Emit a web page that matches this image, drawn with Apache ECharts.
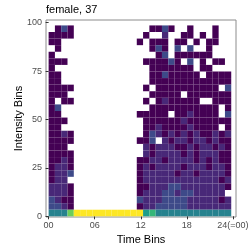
<!DOCTYPE html>
<html>
<head>
<meta charset="utf-8">
<script src="https://cdn.jsdelivr.net/npm/echarts@6/dist/echarts.min.js"></script>
<style>html,body{margin:0;padding:0;background:#fff;}#c{width:249px;height:249px;}</style>
</head>
<body>
<div id="c"></div>
<script>
// ---- data ----
const chartTitle = 'female, 37';
const timeTicks = [0, 6, 12, 18, 24];
const timeLabels = ['00', '06', '12', '18', '24(=00)'];
const intensityTicks = [0, 25, 50, 75, 100];
// level per cell (0..9 on viridis), '.' = no data; first string = top intensity bin
const intensityRows = [
  '.020' + '..........' + '..0020..0...0..',
  '0000' + '..........' + '.0..1..00.0.0..',
  '00..' + '..........' + '0.000.00.0.00..',
  '.0..' + '..........' + '..020.2.2..0...',
  '0...' + '..........' + '...02.000000...',
  '000.' + '..........' + '.000020.2.0.00.',
  '0...' + '..........' + '..0000000.00...',
  '00..' + '..........' + '..00200000.0000',
  '00..' + '..........' + '..0000000000000',
  '0000' + '..........' + '.0.0000000000.2',
  '000.' + '..........' + '..00000.0000000',
  '0.00' + '..........' + '.0.0100000..000',
  '02..' + '..........' + '..00000000000.0',
  '00..' + '..........' + '00000.0010000.2',
  '000.' + '..........' + '.00000010000000',
  '00..' + '..........' + '.001000010000.0',
  '0010' + '..........' + '.02101010100101',
  '0000' + '..........' + '002.10110110100',
  '000.' + '..........' + '.10111001011010',
  '0000' + '..........' + '.10111101011100',
  '0010' + '..........' + '001101111010100',
  '0110' + '..........' + '010111101110110',
  '0112' + '..........' + '011111011011110',
  '011.' + '..........' + '011111111111101',
  '1110' + '..........' + '001112211111110',
  '1110' + '..........' + '01112212211111.',
  '2100' + '..........' + '211122221111101',
  '2210' + '..........' + '011222221111111',
  '4447' + '9999999999' + '956444444444444'
];
// ---- bin geometry (data units) ----
const TIME_BIN = 0.82;
const INT_BIN = 3.4;

const cells = [];
const nRows = intensityRows.length;
intensityRows.forEach((row, r) => {
  const j = nRows - 1 - r;
  for (let c = 0; c < row.length; c++) {
    const ch = row[c];
    if (ch === '.') continue;
    cells.push([c * TIME_BIN, j * INT_BIN, Number(ch)]);
  }
});

const viridis = ['#440154','#482878','#3E4A89','#31688E','#26828E','#1F9E89','#35B779','#6DCD59','#B4DE2C','#FDE725'];
const FONT = 'Liberation Sans, Arial, sans-serif';

const chart = echarts.init(document.getElementById('c'), null, {renderer: 'canvas'});
chart.setOption({
  animation: false,
  backgroundColor: '#fff',
  title: {
    text: chartTitle, left: 46, top: 4, padding: 0,
    textStyle: {fontSize: 11, fontWeight: 'normal', color: '#000', fontFamily: FONT}
  },
  grid: {
    left: 46, top: 20, right: 13, bottom: 32,
    containLabel: false, outerBoundsMode: 'none',
    show: true, borderColor: '#8c8c8c', borderWidth: 1, backgroundColor: 'transparent'
  },
  visualMap: {
    show: false, type: 'continuous', min: 0, max: 9, dimension: 2,
    inRange: {color: viridis}
  },
  xAxis: {
    type: 'value', min: -0.34, max: 24.4,
    name: 'Time Bins', nameLocation: 'middle', nameGap: 17, nameMoveOverlap: false,
    nameTextStyle: {fontSize: 11, color: '#000', fontFamily: FONT},
    axisLine: {show: false},
    splitLine: {show: false},
    axisTick: {show: true, length: 3, customValues: timeTicks, lineStyle: {color: '#333', width: 1}},
    axisLabel: {
      customValues: timeTicks, margin: 4, fontSize: 9, color: '#4d4d4d', fontFamily: FONT,
      formatter: v => timeLabels[timeTicks.indexOf(v)]
    }
  },
  yAxis: {
    type: 'value', min: -0.36, max: 101.4,
    name: 'Intensity Bins', nameLocation: 'middle', nameGap: 22, nameMoveOverlap: false,
    nameTextStyle: {fontSize: 11, color: '#000', fontFamily: FONT},
    axisLine: {show: false},
    splitLine: {show: false},
    axisTick: {show: true, length: 3, customValues: intensityTicks, lineStyle: {color: '#333', width: 1}},
    axisLabel: {
      customValues: intensityTicks, margin: 4, fontSize: 9, color: '#4d4d4d', fontFamily: FONT
    }
  },
  series: [{
    type: 'custom',
    data: cells,
    encode: {x: 0, y: 1},
    renderItem: function (params, api) {
      const x0 = api.value(0), y0 = api.value(1);
      const p0 = api.coord([x0, y0 + INT_BIN]);
      const p1 = api.coord([x0 + TIME_BIN, y0]);
      return {
        type: 'rect',
        shape: {x: p0[0], y: p0[1], width: p1[0] - p0[0], height: p1[1] - p0[1]},
        style: {fill: api.visual('color')}
      };
    }
  }]
});
</script>
</body>
</html>
